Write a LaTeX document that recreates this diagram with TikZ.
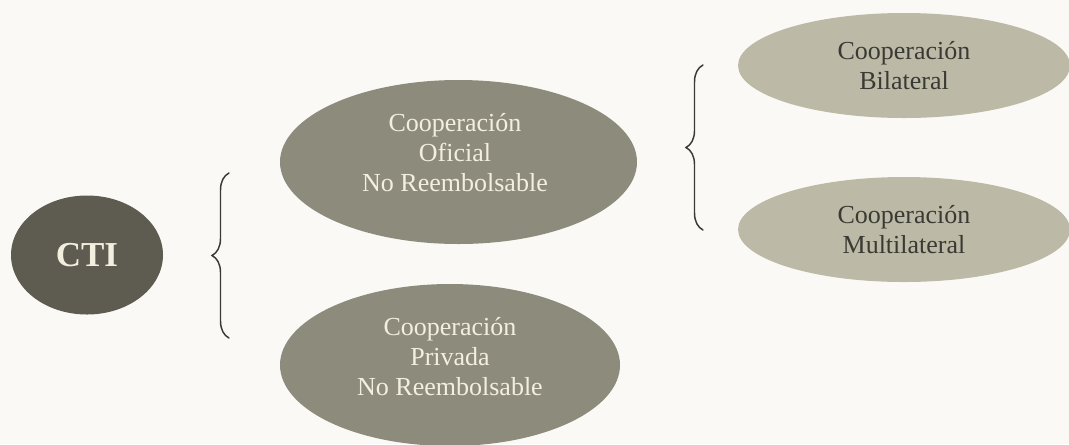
\documentclass[tikz,border=0pt]{standalone}
\usepackage{fontspec}
\setmainfont{Liberation Serif}
\usepackage{xcolor}
\usepackage{tikz}
\usetikzlibrary{
  shapes.geometric,
  decorations.pathreplacing
}
\definecolor{ctPaper}{HTML}{FAF9F5}
\definecolor{ctDark}{HTML}{5E5C50}
\definecolor{ctMid}{HTML}{8D8C7C}
\definecolor{ctLight}{HTML}{BCBAA6}
\definecolor{ctCream}{HTML}{F3EFDF}
\definecolor{ctInk}{HTML}{3A3A34}
\tikzset{
  blob/.style={ellipse, draw=none, inner sep=0pt},
  ctinode/.style={blob, fill=ctDark, minimum width=114pt, minimum height=89.25pt,
    text=ctCream, font=\fontsize{26.25}{30}\selectfont\bfseries},
  midnode/.style={blob, fill=ctMid},
  lightnode/.style={blob, fill=ctLight, minimum width=249pt, minimum height=78.75pt,
    text=ctInk, align=center, font=\fontsize{19.5}{22.5}\selectfont},
  midtext/.style={text=ctCream, align=center, inner sep=0pt, font=\fontsize{19.5}{22.5}\selectfont},
  brace/.style={decorate, decoration={brace, amplitude=12.75pt}, draw=ctInk, line width=1.1pt, line cap=round}
}
\begin{document}
\begin{tikzpicture}[x=0.75pt, y=-0.75pt]
  \clip (0,0) rectangle (1069,444);
  \fill[ctPaper] (0,0) rectangle (1069,444);

  % left side
  \node[ctinode] (cti) at (87,255) {CTI};
  \node[midnode, minimum width=267.75pt, minimum height=123pt] (ofc) at (458.5,162) {};
  \node[midtext] (ofc-t) at (455,153) {Cooperación\\Oficial\\No Reembolsable};
  \node[midnode, minimum width=255pt, minimum height=121.5pt] (prv) at (450,365) {};
  \node[midtext] (prv-t) at (450,357) {Cooperación\\Privada\\No Reembolsable};

  % right side
  \node[lightnode] (bil) at (904,65.5) {Cooperación\\Bilateral};
  \node[lightnode] (mul) at (904,229.5) {Cooperación\\Multilateral};

  % braces
  \coordinate (b1-lo) at (229,338);
  \coordinate (b1-hi) at (229,173);
  \coordinate (b2-lo) at (703,230);
  \coordinate (b2-hi) at (703,65);
  \draw[brace] (b1-lo) -- (b1-hi);
  \draw[brace] (b2-lo) -- (b2-hi);
\end{tikzpicture}
\end{document}
